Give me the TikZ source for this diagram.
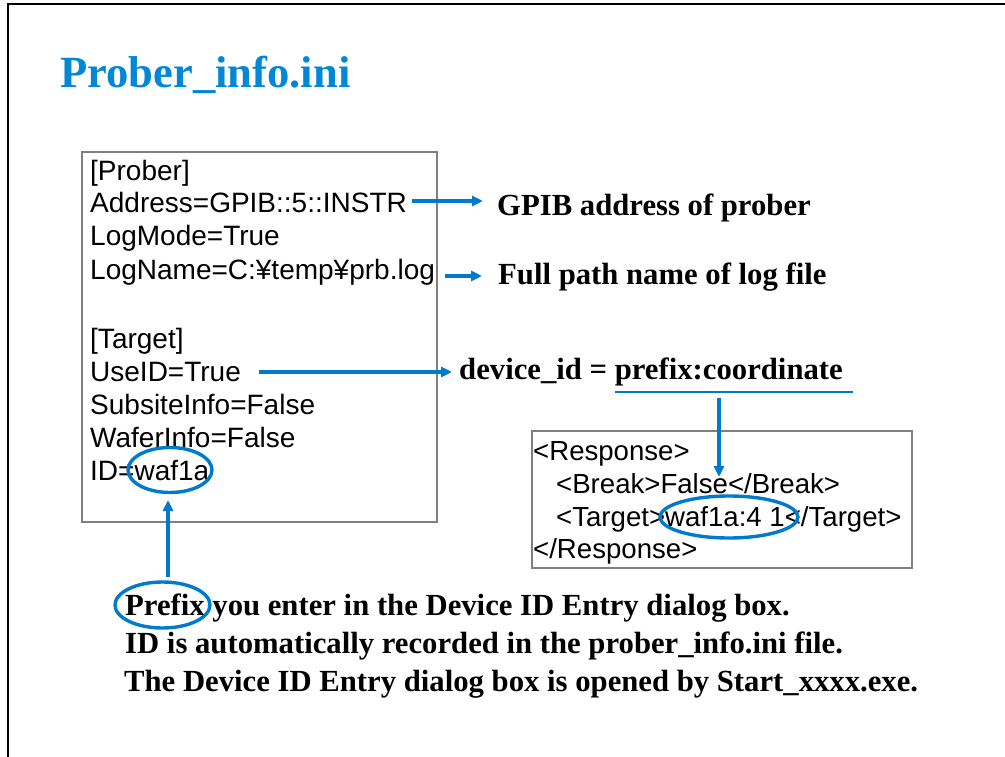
\documentclass[tikz,border=0pt]{standalone}
\usepackage{fontspec}
\setmainfont{Liberation Serif}
\newfontfamily\arialfont{Liberation Sans}
\usetikzlibrary{arrows.meta,shapes.geometric}
\definecolor{titleblue}{RGB}{0,136,214}
\definecolor{linkblue}{RGB}{0,122,204}
\definecolor{boxgray}{RGB}{128,128,128}
\begin{document}
\begin{tikzpicture}[x=1pt,y=-1pt,
  ini/.style={anchor=base west,inner sep=0pt,font=\arialfont\fontsize{28}{33}\selectfont},
  resp/.style={anchor=base west,inner sep=0pt,font=\arialfont\fontsize{27.6}{33}\selectfont},
  note/.style={anchor=base west,inner sep=0pt,font=\bfseries\fontsize{30.7}{36}\selectfont},
  filebox/.style={draw=boxgray,line width=2pt,inner sep=0pt,anchor=north west},
  link/.style={draw=linkblue,line width=3.4pt,-{Triangle[length=11pt,width=10pt]}},
  ring/.style={draw=linkblue,line width=3.4pt,ellipse,inner sep=0pt}
]
\useasboundingbox (0,0) rectangle (1005,757);
% slide frame
\draw[line width=1.5pt] (8,757) -- (8,4) -- (1005,4);
% title
\node[anchor=base west,inner sep=0pt,text=titleblue,font=\bfseries\fontsize{44.6}{50}\selectfont] (title) at (60,87.5) {Prober\_info.ini};
% ini file box
\node[filebox,minimum width=355pt,minimum height=370pt] (inibox) at (81,151) {};
\node[ini] (l1) at (90,181) {[Prober]};
\node[ini] (l2) at (90,212.5) {Address=GPIB::5::INSTR};
\node[ini] (l3) at (90,246) {LogMode=True};
\node[ini] (l4) at (90,279) {LogName=C:¥temp¥prb.log};
\node[ini] (l5) at (90,348.5) {[Target]};
\node[ini] (l6) at (90,381) {UseID=True};
\node[ini] (l7) at (90,414) {SubsiteInfo=False};
\node[ini] (l8) at (90,447.5) {WaferInfo=False};
\node[ini] (l9) at (90,480.5) {ID=waf1a};
\node[ring,minimum width=84pt,minimum height=45pt] (idring) at (170,470) {};
% explanations
\node[note] (gpib) at (497,215) {GPIB address of prober};
\node[note] (logf) at (498,284) {Full path name of log file};
\node[note] (devid) at (459,379) {device\_id = prefix:coordinate};
\coordinate (u0) at (615,392);
\coordinate (u1) at (853,392);
\draw[draw=linkblue,line width=1.8pt] (u0) -- (u1);
% response box
\node[filebox,minimum width=380pt,minimum height=137pt] (respbox) at (531,430) {};
\node[resp] (r1) at (533,460) {<Response>};
\node[resp] (r2) at (556,493) {<Break>False</Break>};
\node[resp] (r3) at (556,526.5) {<Target>waf1a:4 1</Target>};
\node[resp] (r4) at (533,558) {</Response>};
\node[ring,minimum width=138pt,minimum height=42pt] (coordring) at (729,517) {};
% bottom notes
\node[note] (n1) at (125,615.5) {Prefix you enter in the Device ID Entry dialog box.};
\node[note] (n2) at (125,653.5) {ID is automatically recorded in the prober\_info.ini file.};
\node[note] (n3) at (124,691.5) {The Device ID Entry dialog box is opened by Start\_xxxx.exe.};
\node[ring,minimum width=95pt,minimum height=46pt] (prefring) at (162.5,605) {};
% connectors
\coordinate (a0) at (412,201);
\coordinate (a1) at (483,201);
\coordinate (b0) at (445,276);
\coordinate (b1) at (482,276);
\coordinate (c0) at (259,372);
\coordinate (c1) at (452,372);
\coordinate (d0) at (719,398);
\coordinate (d1) at (719,477);
\coordinate (p0) at (168,577);
\coordinate (p1) at (168,500);
\draw[link] (a0) -- (a1);
\draw[link] (b0) -- (b1);
\draw[link] (c0) -- (c1);
\draw[link] (d0) -- (d1);
\draw[link] (p0) -- (p1);
\end{tikzpicture}
\end{document}
